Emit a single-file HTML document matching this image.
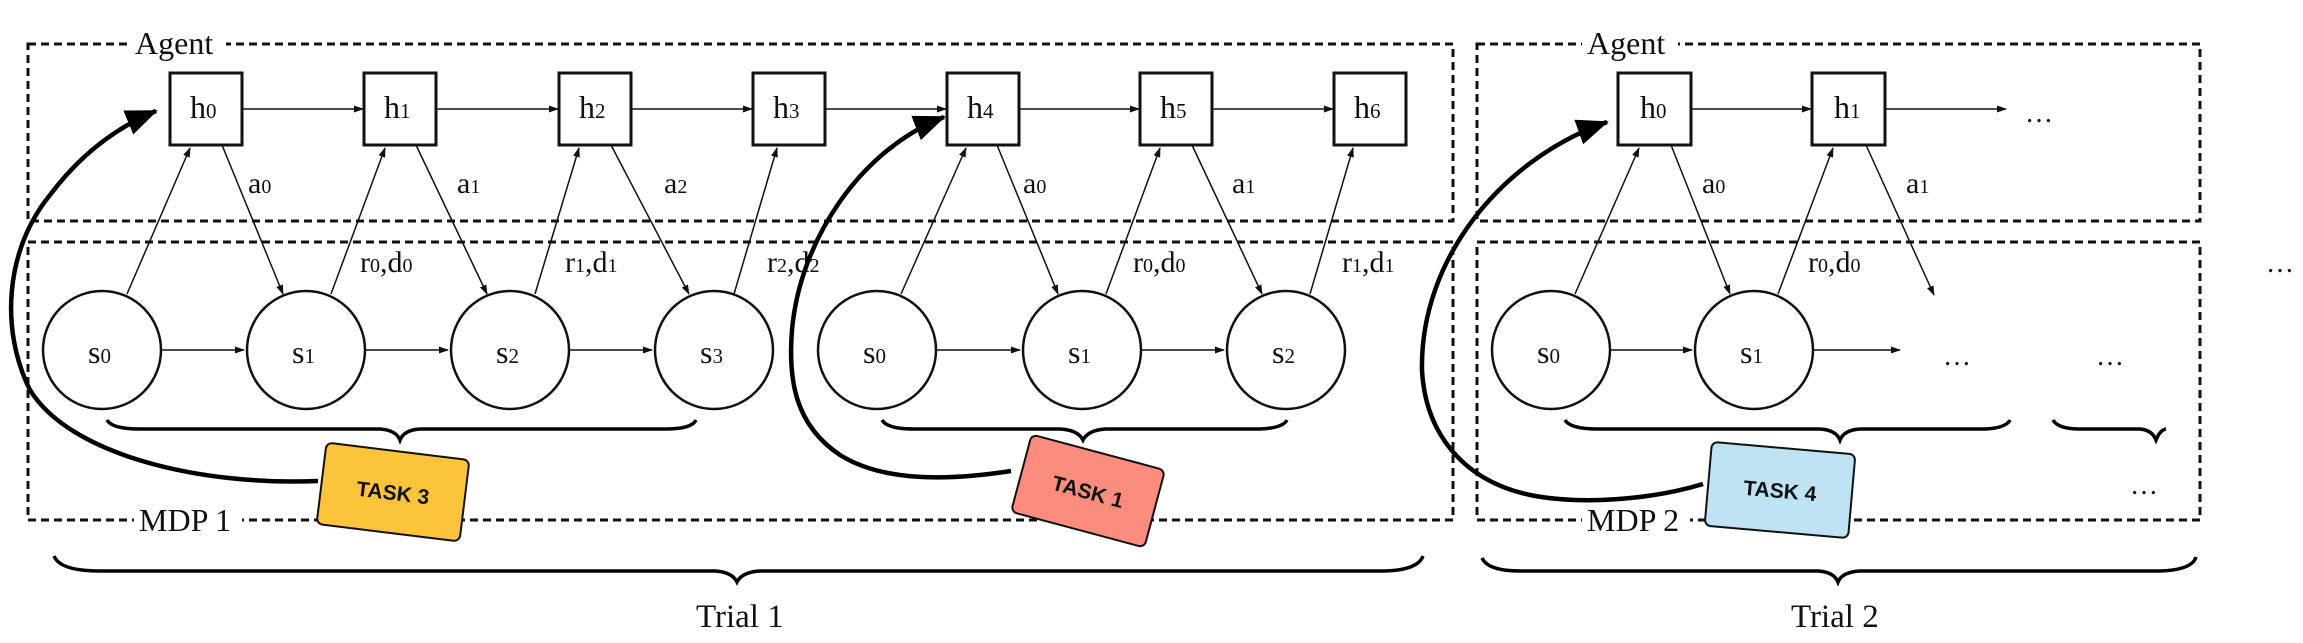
<!DOCTYPE html>
<html><head><meta charset="utf-8"><style>
html,body{margin:0;padding:0;background:#fff;}
svg{display:block;}
text{font-family:"Liberation Serif",serif;fill:#111;}
.card{font-family:"Liberation Sans",sans-serif;font-weight:bold;font-size:21px;fill:#111;}
</style></head><body>
<svg width="2303" height="643" viewBox="0 0 2303 643" xmlns="http://www.w3.org/2000/svg">
<defs>
<marker id="a" markerWidth="10" markerHeight="8" refX="9" refY="4" orient="auto" markerUnits="userSpaceOnUse"><path d="M0,0.5 L10,4 L0,7.5 z" fill="#111"/></marker>
<marker id="b" markerWidth="34" markerHeight="26" refX="30" refY="13" orient="auto" markerUnits="userSpaceOnUse"><path d="M0,0 L32,13 L0,26 z" fill="#000"/></marker>
</defs>
<g fill="none" stroke="#111" stroke-width="3" stroke-dasharray="8 5">
<rect x="28" y="44" width="1425" height="177"/>
<rect x="28" y="242" width="1425" height="278"/>
<rect x="1477" y="44" width="723" height="177"/>
<rect x="1477" y="242" width="723" height="278"/>
</g>
<g font-size="32">
<rect x="130" y="24" width="96" height="34" fill="#fff"/><text x="135" y="54">Agent</text>
<rect x="1582" y="24" width="96" height="34" fill="#fff"/><text x="1587" y="54">Agent</text>
<rect x="134" y="504" width="108" height="34" fill="#fff"/><text x="139" y="531">MDP 1</text>
<rect x="1582" y="504" width="108" height="34" fill="#fff"/><text x="1587" y="531">MDP 2</text>
</g>
<!-- h boxes -->
<g fill="#fff" stroke="#111" stroke-width="3">
<rect x="170" y="73" width="72" height="72"/>
<rect x="364" y="73" width="72" height="72"/>
<rect x="559" y="73" width="72" height="72"/>
<rect x="753" y="73" width="72" height="72"/>
<rect x="947" y="73" width="72" height="72"/>
<rect x="1140" y="73" width="72" height="72"/>
<rect x="1334" y="73" width="72" height="72"/>
<rect x="1618" y="73" width="73" height="72"/>
<rect x="1812" y="73" width="73" height="72"/>
</g>
<g font-size="32">
<text x="190" y="118">h<tspan font-size="21">0</tspan></text>
<text x="384" y="118">h<tspan font-size="21">1</tspan></text>
<text x="579" y="118">h<tspan font-size="21">2</tspan></text>
<text x="773" y="118">h<tspan font-size="21">3</tspan></text>
<text x="967" y="118">h<tspan font-size="21">4</tspan></text>
<text x="1160" y="118">h<tspan font-size="21">5</tspan></text>
<text x="1354" y="118">h<tspan font-size="21">6</tspan></text>
<text x="1640" y="118">h<tspan font-size="21">0</tspan></text>
<text x="1834" y="118">h<tspan font-size="21">1</tspan></text>
</g>
<!-- circles -->
<g fill="#fff" stroke="#111" stroke-width="2.5">
<circle cx="102" cy="350" r="59"/><circle cx="306" cy="350" r="59"/><circle cx="510" cy="350" r="59"/><circle cx="714" cy="350" r="59"/>
<circle cx="877" cy="350" r="59"/><circle cx="1082" cy="350" r="59"/><circle cx="1286" cy="350" r="59"/>
<circle cx="1551" cy="350" r="59"/><circle cx="1754" cy="350" r="59"/>
</g>
<g font-size="32">
<text x="88" y="363">s<tspan font-size="21">0</tspan></text>
<text x="292" y="363">s<tspan font-size="21">1</tspan></text>
<text x="496" y="363">s<tspan font-size="21">2</tspan></text>
<text x="700" y="363">s<tspan font-size="21">3</tspan></text>
<text x="863" y="363">s<tspan font-size="21">0</tspan></text>
<text x="1068" y="363">s<tspan font-size="21">1</tspan></text>
<text x="1272" y="363">s<tspan font-size="21">2</tspan></text>
<text x="1537" y="363">s<tspan font-size="21">0</tspan></text>
<text x="1740" y="363">s<tspan font-size="21">1</tspan></text>
</g>
<!-- thin arrows -->
<g stroke="#111" stroke-width="1.5" fill="none" marker-end="url(#a)">
<line x1="243" y1="109" x2="363" y2="109"/><line x1="437" y1="109" x2="558" y2="109"/><line x1="632" y1="109" x2="752" y2="109"/><line x1="826" y1="109" x2="946" y2="109"/><line x1="1020" y1="109" x2="1139" y2="109"/><line x1="1213" y1="109" x2="1333" y2="109"/>
<line x1="1692" y1="109" x2="1811" y2="109"/><line x1="1886" y1="109" x2="2006" y2="109"/>
<line x1="162" y1="350" x2="244" y2="350"/><line x1="366" y1="350" x2="448" y2="350"/><line x1="570" y1="350" x2="652" y2="350"/>
<line x1="937" y1="350" x2="1020" y2="350"/><line x1="1142" y1="350" x2="1224" y2="350"/>
<line x1="1611" y1="350" x2="1692" y2="350"/><line x1="1814" y1="350" x2="1900" y2="350"/>
<!-- up arrows s->h -->
<line x1="127" y1="294" x2="190" y2="148"/><line x1="331" y1="294" x2="385" y2="148"/><line x1="535" y1="294" x2="579" y2="148"/><line x1="734" y1="294" x2="777" y2="148"/>
<line x1="901" y1="294" x2="966" y2="148"/><line x1="1106" y1="294" x2="1160" y2="148"/><line x1="1310" y1="294" x2="1353" y2="148"/>
<line x1="1575" y1="294" x2="1639" y2="148"/><line x1="1778" y1="294" x2="1833" y2="148"/>
<!-- down arrows h->s -->
<line x1="222" y1="145" x2="283" y2="294"/><line x1="416" y1="145" x2="487" y2="294"/><line x1="611" y1="145" x2="689" y2="294"/>
<line x1="997" y1="145" x2="1058" y2="294"/><line x1="1192" y1="145" x2="1262" y2="294"/>
<line x1="1671" y1="145" x2="1730" y2="294"/><line x1="1866" y1="145" x2="1934" y2="295"/>
</g>
<g font-size="30">
<text x="248" y="193">a<tspan font-size="20">0</tspan></text>
<text x="457" y="193">a<tspan font-size="20">1</tspan></text>
<text x="664" y="193">a<tspan font-size="20">2</tspan></text>
<text x="1023" y="193">a<tspan font-size="20">0</tspan></text>
<text x="1232" y="193">a<tspan font-size="20">1</tspan></text>
<text x="1702" y="193">a<tspan font-size="20">0</tspan></text>
<text x="1906" y="193">a<tspan font-size="20">1</tspan></text>
<text x="360" y="272">r<tspan font-size="20">0</tspan>,d<tspan font-size="20">0</tspan></text>
<text x="565" y="272">r<tspan font-size="20">1</tspan>,d<tspan font-size="20">1</tspan></text>
<text x="767" y="272">r<tspan font-size="20">2</tspan>,d<tspan font-size="20">2</tspan></text>
<text x="1133" y="272">r<tspan font-size="20">0</tspan>,d<tspan font-size="20">0</tspan></text>
<text x="1342" y="272">r<tspan font-size="20">1</tspan>,d<tspan font-size="20">1</tspan></text>
<text x="1808" y="272">r<tspan font-size="20">0</tspan>,d<tspan font-size="20">0</tspan></text>
</g>
<g font-size="28">
<text x="2025" y="122">…</text>
<text x="1943" y="365">…</text>
<text x="2096" y="365">…</text>
<text x="2130" y="494">…</text>
<text x="2266" y="272">…</text>
</g>
<!-- braces -->
<g fill="none" stroke="#000" stroke-width="3.5">
<path d="M107,420 Q112,429 140,429 L380,429 Q396,430 400,440 Q404,430 420,429 L665,429 Q692,429 696,420"/>
<path d="M882,420 Q887,429 915,429 L1060,429 Q1078,430 1083,440 Q1088,430 1106,429 L1260,429 Q1283,428 1287,420"/>
<path d="M1565,420 Q1570,429 1598,429 L1820,429 Q1836,430 1840,440 Q1844,430 1860,429 L1985,429 Q2006,428 2010,420"/>
<path d="M2053,420 Q2058,429 2080,429 L2140,429 Q2152,430 2156,440 Q2160,430 2166,429"/>
<path d="M54,556 Q60,571 100,571 L715,571 Q732,572 737,582 Q742,572 760,571 L1385,571 Q1418,570 1423,556"/>
<path d="M1482,558 Q1488,571 1520,571 L1818,571 Q1834,572 1838,582 Q1842,572 1860,571 L2160,571 Q2192,570 2196,557"/>
</g>
<g font-size="33">
<text x="696" y="627">Trial 1</text>
<text x="1791" y="627">Trial 2</text>
</g>
<!-- thick curves -->
<g fill="none" stroke="#000" stroke-width="4.5" marker-end="url(#b)">
<path d="M318,481 C200,486 70,455 30,390 C0,330 5,250 50,195 C80,155 115,128 156,111"/>
<path d="M1011,471 C940,482 880,480 840,455 C795,425 788,380 792,330 C800,240 860,150 944,117"/>
<path d="M1703,484 C1650,500 1580,505 1530,495 C1460,480 1425,430 1422,370 C1420,260 1500,160 1607,122"/>
</g>
<!-- task cards -->
<g transform="translate(393,492) rotate(7)">
<rect x="-72" y="-41" width="144" height="82" rx="6" fill="#fcc43a" stroke="#111" stroke-width="2"/>
<text class="card" x="0" y="8" text-anchor="middle">TASK 3</text>
</g>
<g transform="translate(1088,491) rotate(15)">
<rect x="-69" y="-40" width="138" height="80" rx="6" fill="#fc8c7d" stroke="#111" stroke-width="2"/>
<text class="card" x="0" y="8" text-anchor="middle">TASK 1</text>
</g>
<g transform="translate(1780,490) rotate(5)">
<rect x="-72" y="-42" width="144" height="84" rx="6" fill="#bfe3f5" stroke="#111" stroke-width="2"/>
<text class="card" x="0" y="8" text-anchor="middle">TASK 4</text>
</g>
</svg>
</body></html>
